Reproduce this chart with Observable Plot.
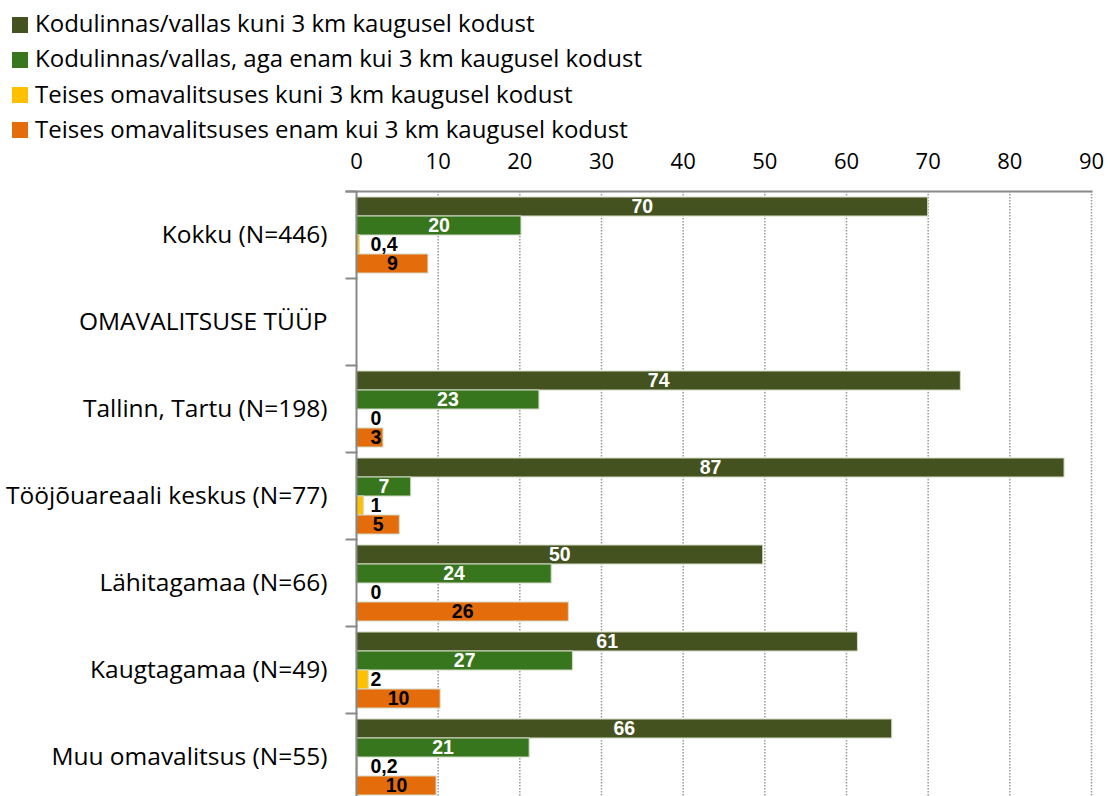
<!DOCTYPE html>
<html><head><meta charset="utf-8">
<script src="https://cdn.jsdelivr.net/npm/d3@7"></script>
<script src="https://cdn.jsdelivr.net/npm/@observablehq/plot@0.6"></script>
<style>
html,body{margin:0;padding:0;overflow:hidden;background:#fff;}
#legend{height:140px;position:relative;font-family:"Open Sans";font-size:24px;color:#000;}
.item{position:absolute;left:12px;height:30px;line-height:30px;display:flex;align-items:center;white-space:nowrap;}
.sw{width:16px;height:16px;margin-right:7px;margin-top:3px;flex:none;}
</style></head><body>
<div id="legend"></div>
<div id="chart"></div>
<script>
const groups = ["Kokku (N=446)", "OMAVALITSUSE TÜÜP", "Tallinn, Tartu (N=198)", "Tööjõuareaali keskus (N=77)", "Lähitagamaa (N=66)", "Kaugtagamaa (N=49)", "Muu omavalitsus (N=55)"];
const series = ["Kodulinnas/vallas kuni 3 km kaugusel kodust", "Kodulinnas/vallas, aga enam kui 3 km kaugusel kodust", "Teises omavalitsuses kuni 3 km kaugusel kodust", "Teises omavalitsuses enam kui 3 km kaugusel kodust"];
const colors = ["#445220", "#38761d", "#ffc000", "#e46c0a"];
// bar lengths (null = no bars)
const values0 = [70.0, null, 74.0, 86.7, 49.8, 61.4, 65.6];
const values1 = [20.2, null, 22.4, 6.7, 23.9, 26.5, 21.2];
const values2 = [0.4, null, 0, 0.9, 0, 1.5, 0.2];
const values3 = [8.8, null, 3.3, 5.3, 26.0, 10.3, 9.8];
// data labels as printed
const labels0 = ["70", "", "74", "87", "50", "61", "66"];
const labels1 = ["20", "", "23", "7", "24", "27", "21"];
const labels2 = ["0,4", "", "0", "1", "0", "2", "0,2"];
const labels3 = ["9", "", "3", "5", "26", "10", "10"];
const xTicks = [0, 10, 20, 30, 40, 50, 60, 70, 80, 90];

const values = [values0, values1, values2, values3];
const labels = [labels0, labels1, labels2, labels3];
const data = [];
groups.forEach((g, i) => series.forEach((s, j) => {
  const v = values[j][i];
  if (v != null) data.push({g, s, j, v, label: labels[j][i]});
}));

// legend
const leg = document.getElementById("legend");
series.forEach((s, j) => {
  const it = document.createElement("div");
  it.className = "item";
  it.style.top = (8 + j * 35.3) + "px";
  it.innerHTML = `<span class="sw" style="background:${colors[j]}"></span><span>${s}</span>`;
  leg.appendChild(it);
});

const white = data.filter(d => d.j < 2);
const blackBig = data.filter(d => d.j >= 2 && d.v >= 5);
const blackSmall = data.filter(d => d.j >= 2 && d.v < 5);
const lab = {fontFamily: "Liberation Sans", fontWeight: "bold", fontSize: 19.5};

const chart = Plot.plot({
  width: 1110, height: 670,
  marginTop: 50, marginBottom: 10, marginLeft: 356, marginRight: 19,
  style: {fontFamily: "Open Sans", fontSize: "24px", color: "#000", background: "#fff"},
  x: {domain: [0, 90], axis: null},
  y: {domain: series, paddingInner: 0, paddingOuter: 0.26, axis: null},
  fy: {domain: groups, padding: 0, axis: null},
  color: {domain: series, range: colors},
  marks: [
    Plot.ruleX(xTicks.filter(t => t > 0), {stroke: "#9a9a9a", strokeWidth: 1.5, strokeDasharray: "1.5,1.5"}),
    Plot.barX(data, {x: "v", y: "s", fy: "g", fill: "s", stroke: "#d3dac6", strokeWidth: 1}),
    Plot.ruleX(groups, {x: () => 0, fy: d => d, stroke: "#888", strokeWidth: 2}),
    Plot.frame({anchor: "top", stroke: "#888", strokeWidth: 2, insetLeft: -10, insetRight: 735}),
    Plot.frame({anchor: "top", fy: () => groups[0], stroke: "#888", strokeWidth: 2, insetLeft: -10}),
    Plot.text(white, {x: d => d.v / 2, y: "s", fy: "g", text: "label", fill: "white", ...lab}),
    Plot.text(blackBig, {x: d => d.v / 2, y: "s", fy: "g", text: "label", fill: "black", ...lab}),
    Plot.text(blackSmall, {x: () => 0, y: "s", fy: "g", text: "label", fill: "black", textAnchor: "start", dx: 14, ...lab}),
    Plot.axisX(xTicks, {anchor: "top", tickSize: 0, tickPadding: 23, fontSize: 22, label: null}),
    Plot.axisFy({anchor: "left", tickSize: 0, tickPadding: 29, fontSize: 24.5, label: null})
  ]
});
document.getElementById("chart").appendChild(chart);
</script>
</body></html>
